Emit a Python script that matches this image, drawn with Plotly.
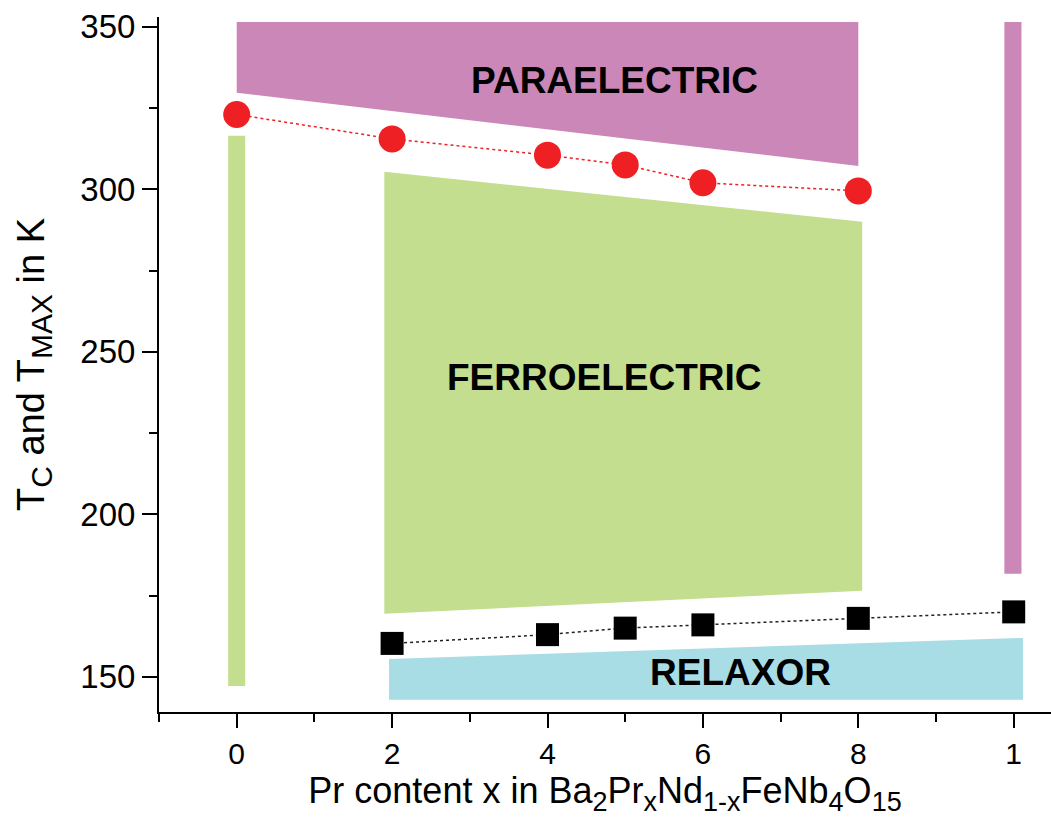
import plotly.graph_objects as go

# ---- data ----
x_tc = [0, 0.2, 0.4, 0.5, 0.6, 0.8]
tc = [323, 315.5, 310.5, 307.5, 302, 299.5]

x_tmax = [0.2, 0.4, 0.5, 0.6, 0.8, 1.0]
tmax = [160.3, 163, 165, 166, 168, 170]

# region polygons (x, T)
para_x = [0, 0.8, 0.8, 0]
para_y = [351.5, 351.5, 307.2, 329.7]
para_bar_x = [0.988, 1.01, 1.01, 0.988]
para_bar_y = [351.5, 351.5, 181.7, 181.7]

ferro_x = [0.19, 0.805, 0.805, 0.19]
ferro_y = [305.4, 290, 176.5, 169.4]
ferro_bar_x = [-0.011, 0.011, 0.011, -0.011]
ferro_bar_y = [316.5, 316.5, 147.2, 147.2]

relax_x = [0.196, 1.012, 1.012, 0.196]
relax_y = [155.5, 162, 143, 143]

x_tickvals = [0, 0.2, 0.4, 0.6, 0.8, 1.0]
x_ticktext = ["0", "2", "4", "6", "8", "1"]
y_tickvals = [150, 200, 250, 300, 350]

labels = [("PARAELECTRIC", 0.486, 333.5), ("FERROELECTRIC", 0.473, 242), ("RELAXOR", 0.648, 151.2)]

PINK = "#CC87B9"
GREEN = "#C2DE8E"
CYAN = "#A9DDE6"
RED = "#EE2024"

fig = go.Figure()

def poly(xs, ys, color):
    fig.add_trace(go.Scatter(x=xs + [xs[0]], y=ys + [ys[0]], fill="toself", fillcolor=color,
                             mode="lines", line=dict(width=0, color=color), hoverinfo="skip",
                             showlegend=False))

poly(para_x, para_y, PINK)
poly(para_bar_x, para_bar_y, PINK)
poly(ferro_x, ferro_y, GREEN)
poly(ferro_bar_x, ferro_bar_y, GREEN)
poly(relax_x, relax_y, CYAN)

fig.add_trace(go.Scatter(x=x_tc, y=tc, mode="lines+markers",
                         line=dict(color=RED, width=1.5, dash="dot"),
                         marker=dict(symbol="circle", size=27, color=RED),
                         showlegend=False))
fig.add_trace(go.Scatter(x=x_tmax, y=tmax, mode="lines+markers",
                         line=dict(color="#222222", width=1.5, dash="dot"),
                         marker=dict(symbol="square", size=23, color="black"),
                         showlegend=False))

for txt, xx, yy in labels:
    fig.add_annotation(x=xx, y=yy, text="<b>" + txt + "</b>", showarrow=False,
                       font=dict(family="Liberation Sans, Arial", size=37, color="black"))

SUB = '<sub><span style="font-size:30px">{}</span></sub>'
XSUB = '<sub><span style="font-size:27px">{}</span></sub>'

fig.update_layout(
    width=1051, height=829,
    margin=dict(l=159, r=0, t=17, b=117),
    plot_bgcolor="white", paper_bgcolor="white",
    showlegend=False,
)
fig.update_xaxes(
    range=[-0.1, 1.048], showgrid=False, zeroline=False,
    showline=True, linecolor="black", linewidth=2,
    tickmode="array", tickvals=x_tickvals, ticktext=x_ticktext,
    ticks="outside", ticklen=14, tickwidth=2, tickcolor="black",
    minor=dict(ticks="outside", ticklen=8, tickwidth=2, tickcolor="black", dtick=0.1, tick0=0),
    tickfont=dict(family="Liberation Sans, Arial", size=30, color="black"),
    title=dict(text="Pr content x in Ba" + XSUB.format("2") + "Pr" + XSUB.format("x") + "Nd"
                    + XSUB.format("1-x") + "FeNb" + XSUB.format("4") + "O" + XSUB.format("15"),
               font=dict(family="Liberation Sans, Arial", size=36, color="black"),
               standoff=4),
)
fig.update_yaxes(
    range=[139.2, 353], showgrid=False, zeroline=False,
    showline=True, linecolor="black", linewidth=2,
    tickmode="array", tickvals=y_tickvals,
    ticks="outside", ticklen=15, tickwidth=2, tickcolor="black",
    minor=dict(ticks="outside", ticklen=8, tickwidth=2, tickcolor="black", dtick=25, tick0=150),
    tickfont=dict(family="Liberation Sans, Arial", size=33, color="black"),
    title=dict(text="T" + SUB.format("C") + " and T" + SUB.format("MAX") + " in K",
               font=dict(family="Liberation Sans, Arial", size=38, color="black"),
               standoff=24),
)

fig.write_html("out.html", config={"displayModeBar": False},
               post_script="document.body.style.margin='0';")
